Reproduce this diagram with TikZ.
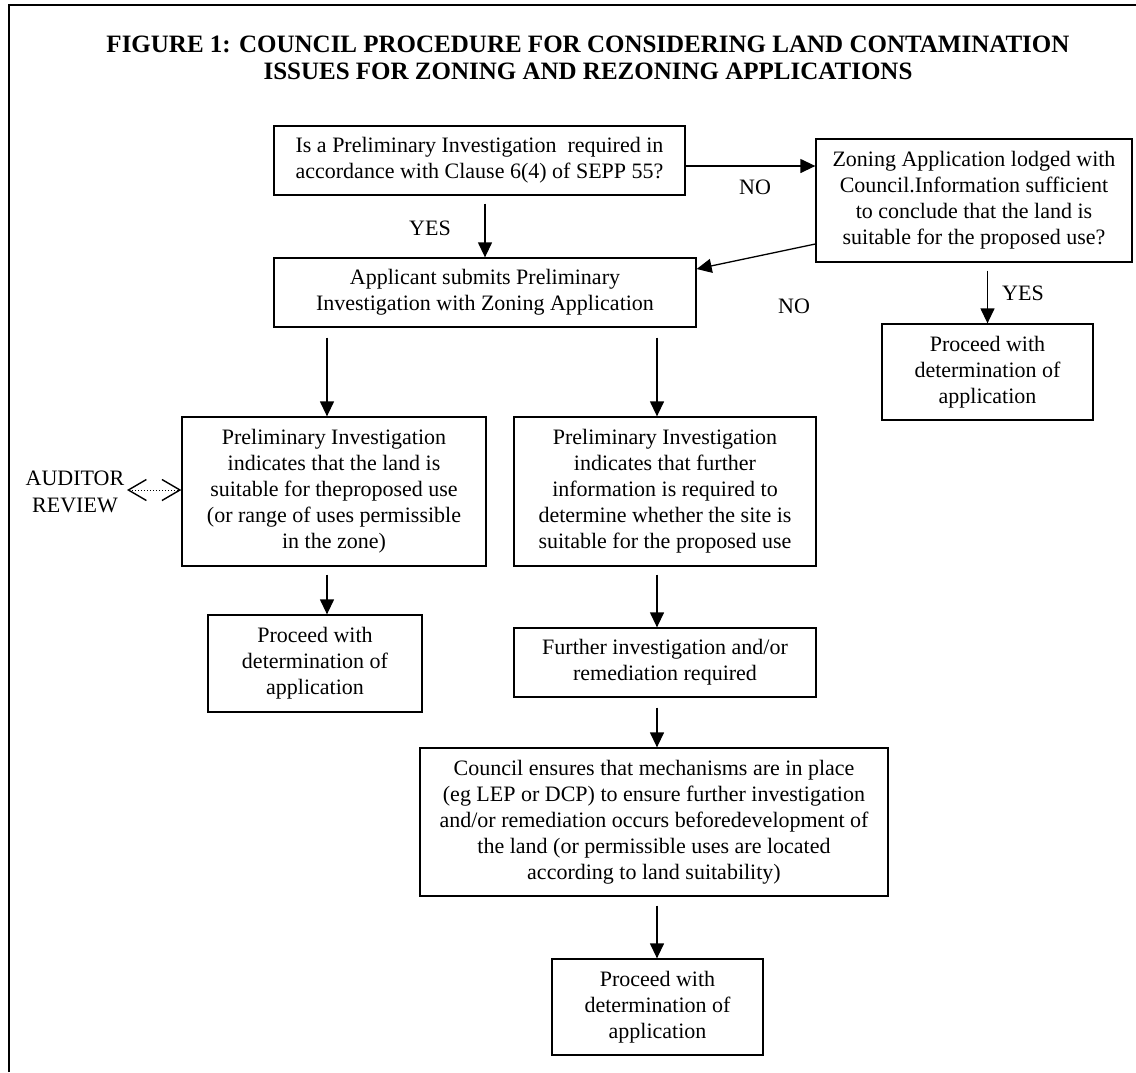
\documentclass[tikz,border=0pt]{standalone}
\usepackage{fontspec}
\setmainfont{Liberation Serif}
\usetikzlibrary{arrows.meta}
\begin{document}
\begin{tikzpicture}[x=1pt,y=-1pt,
  box/.style={draw, line width=1.3pt, align=center, inner sep=0pt, font=\fontsize{22}{26}\selectfont},
  lbl/.style={inner sep=0pt, align=center, font=\fontsize{22}{27}\selectfont},
  arr/.style={line width=1.3pt, -{Triangle[length=15pt,width=14pt]}},
  dblarr/.style={dotted, line width=1pt, {Straight Barb[length=18pt,width=21pt,line width=1.4pt]}-{Straight Barb[length=18pt,width=21pt,line width=1.4pt]}}]
\useasboundingbox (0,0) rectangle (1136,1072);
\draw[line width=1.6pt] (9,1072) -- (9,5) -- (1136,5);

\node[font=\bfseries\fontsize{25}{27.5}\selectfont, align=center, inner sep=0pt] (title) at (588,58)
  {FIGURE 1: COUNCIL PROCEDURE FOR CONSIDERING LAND CONTAMINATION\\ISSUES FOR ZONING AND REZONING APPLICATIONS};

\node[box, minimum width=411pt, minimum height=69pt] (q1) at (479.5,160.5)
  {Is a Preliminary Investigation\ \ required in\\accordance with Clause 6(4) of SEPP 55?};
\node[box, minimum width=316pt, minimum height=123pt] (zon) at (974,200.5)
  {Zoning Application lodged with\\Council.Information sufficient\\to conclude that the land is\\suitable for the proposed use?};
\node[box, minimum width=422pt, minimum height=69pt] (app) at (485,292.5)
  {Applicant submits Preliminary\\Investigation with Zoning Application};
\node[box, minimum width=211pt, minimum height=96pt] (p1) at (987.5,372)
  {Proceed with\\determination of\\application};
\node[box, minimum width=304pt, minimum height=149pt] (suit) at (334,491.5)
  {Preliminary Investigation\\indicates that the land is\\suitable for theproposed use\\(or range of uses permissible\\in the zone)};
\node[box, minimum width=302pt, minimum height=149pt] (furt) at (665,491.5)
  {Preliminary Investigation\\indicates that further\\information is required to\\determine whether the site is\\suitable for the proposed use};
\node[box, minimum width=214pt, minimum height=97pt] (p2) at (315,663.5)
  {Proceed with\\determination of\\application};
\node[box, minimum width=302pt, minimum height=69pt] (finv) at (665,662.5)
  {Further investigation and/or\\remediation required};
\node[box, minimum width=468pt, minimum height=148pt] (cons) at (654,822)
  {Council ensures that mechanisms are in place\\(eg LEP or DCP) to ensure further investigation\\and/or remediation occurs beforedevelopment of\\the land (or permissible uses are located\\according to land suitability)};
\node[box, minimum width=211pt, minimum height=96pt] (p3) at (657.5,1007)
  {Proceed with\\determination of\\application};

\node[lbl] (aud) at (75,492) {AUDITOR\\REVIEW};
\node[lbl] (yes1) at (430,228) {YES};
\node[lbl] (no1) at (755,187) {NO};
\node[lbl] (no2) at (794,306) {NO};
\node[lbl] (yes2) at (1023,293) {YES};

\coordinate (cl) at (327,0);
\coordinate (cr) at (657,0);
\coordinate (a1) at ([yshift=-5.5pt]q1.east);
\coordinate (b1) at ([yshift=-43.5pt]zon.west);
\coordinate (b2) at ([yshift=23.5pt]app.east);
\coordinate (d1) at (127,490);

\draw[arr] (a1) -- (a1 -| zon.west);
\draw[arr, shorten <=8pt] (app.north |- q1.south) -- (app.north);
\draw[arr] (b1) -- (b2);
\draw[arr, shorten <=8pt] (p1.north |- zon.south) -- (p1.north);
\draw[arr, shorten <=10pt] (cl |- app.south) -- (cl |- suit.north);
\draw[arr, shorten <=10pt] (cr |- app.south) -- (cr |- furt.north);
\draw[arr, shorten <=8pt] (cl |- suit.south) -- (cl |- p2.north);
\draw[arr, shorten <=8pt] (cr |- furt.south) -- (cr |- finv.north);
\draw[arr, shorten <=10pt] (cr |- finv.south) -- (cr |- cons.north);
\draw[arr, shorten <=9pt] (cr |- cons.south) -- (cr |- p3.north);
\draw[dblarr] (d1) -- (d1 -| suit.west);
\end{tikzpicture}
\end{document}
